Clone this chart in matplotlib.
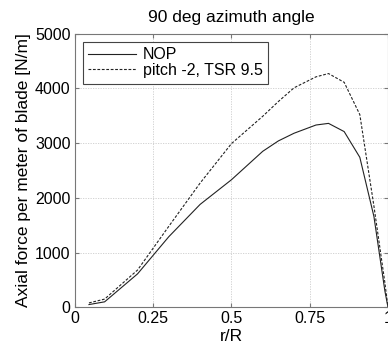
import matplotlib
matplotlib.use("Agg")
import matplotlib.pyplot as plt

plt.rcParams['font.family'] = ['Liberation Sans', 'DejaVu Sans']

# r/R stations and axial force [N/m]
r_R = [0.045, 0.095, 0.2, 0.3, 0.4, 0.5, 0.6, 0.65, 0.7, 0.77, 0.81, 0.86, 0.91, 0.955, 0.99, 1.0]
force_nop = [50, 100, 610, 1290, 1880, 2330, 2850, 3040, 3180, 3330, 3360, 3210, 2740, 1660, 300, 0]
force_pitch = [80, 150, 680, 1480, 2270, 2990, 3490, 3760, 4010, 4210, 4270, 4110, 3520, 1850, 450, 0]

xticks = [0, 0.25, 0.5, 0.75, 1]
xticklabels = ['0', '0.25', '0.5', '0.75', '1']
yticks = [0, 1000, 2000, 3000, 4000, 5000]

fig = plt.figure(figsize=(3.88, 3.5), dpi=100)
ax = fig.add_axes([0.193, 0.122, 0.807, 0.782])

ax.plot(r_R, force_nop, color='#222222', linestyle='-', linewidth=0.8, label='NOP')
ax.plot(r_R, force_pitch, color='#222222', linestyle=(0, (2.5, 1.5)), linewidth=0.8,
        label='pitch -2, TSR 9.5')

ax.set_xlim(0, 1)
ax.set_ylim(0, 5000)
ax.set_xticks(xticks)
ax.set_xticklabels(xticklabels)
ax.set_yticks(yticks)
ax.tick_params(direction='in', length=3, labelsize=11.5, colors='#777777',
               labelcolor='black', top=True, right=True, pad=3)
ax.grid(True, linestyle=(0, (1.5, 1.5)), color='#cccccc', linewidth=0.6)
for s in ax.spines.values():
    s.set_color('#777777')
    s.set_linewidth(0.8)

ax.set_xlabel('r/R', fontsize=12.5, labelpad=2)
ax.set_ylabel('Axial force per meter of blade [N/m]', fontsize=12.5, labelpad=3)
ax.set_title('90 deg azimuth angle', fontsize=12.5, pad=8)

leg = ax.legend(loc='upper left', fontsize=11.5, fancybox=False, framealpha=1,
                edgecolor='#444444', handlelength=3.0, borderaxespad=0.5,
                labelspacing=0.05, borderpad=0.35, handletextpad=0.4)
leg.get_frame().set_linewidth(0.8)

fig.savefig('out.png', dpi=100)
